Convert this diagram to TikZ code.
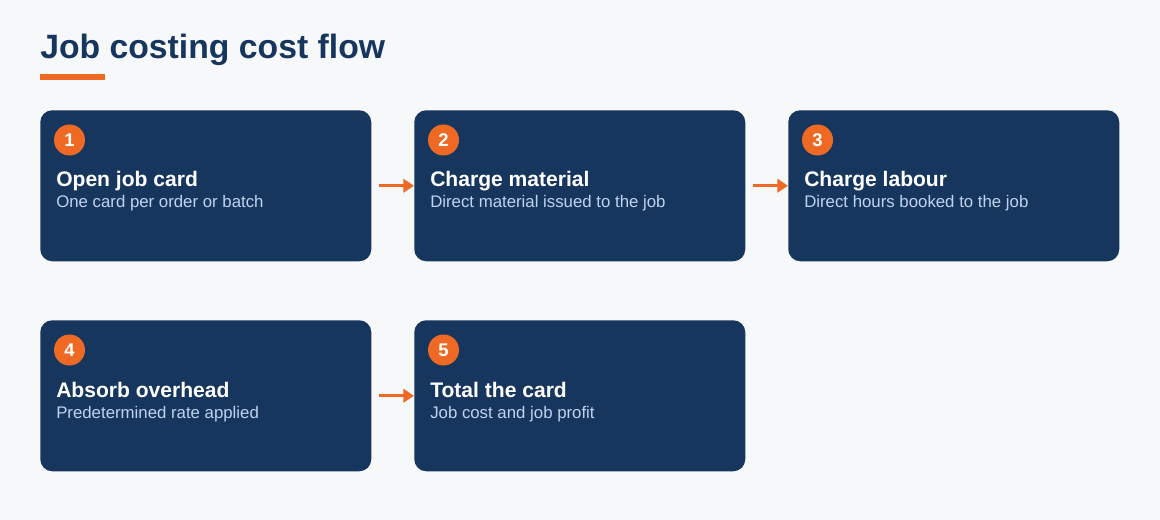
\documentclass[tikz,border=0pt]{standalone}
\usepackage{fontspec}
\setmainfont{Liberation Sans}
\usetikzlibrary{calc,arrows.meta}
\definecolor{bgc}{HTML}{F6F8FA}
\definecolor{navy}{HTML}{17365E}
\definecolor{accent}{HTML}{EE6A24}
\definecolor{subc}{HTML}{BFD3EE}
\begin{document}
\begin{tikzpicture}[x=0.75pt,y=-0.75pt,
  card/.style={draw=none,fill=navy,rounded corners=9pt,minimum width=248.25pt,minimum height=113.25pt,inner sep=0pt,anchor=north west},
  badge/.style={circle,fill=accent,minimum size=23.25pt,inner sep=0pt,text=white,font=\bfseries\fontsize{13.8}{15}\selectfont},
  cardtitle/.style={anchor=base west,inner sep=0pt,text=white,font=\bfseries\fontsize{15.8}{18}\selectfont},
  cardsub/.style={anchor=base west,inner sep=0pt,text=subc,font=\fontsize{12.6}{15}\selectfont},
  flow/.style={draw=accent,line width=2.3pt,-{Triangle[length=8pt,width=10pt]},shorten <=5.25pt}
]
\fill[bgc] (0,0) rectangle (1160,520);
\useasboundingbox (0,0) rectangle (1160,520);
\node[anchor=base west,inner sep=0pt,text=navy,font=\bfseries\fontsize{25.3}{30}\selectfont] (title) at (40,58.5) {Job costing cost flow};
\fill[accent] (40,74) rectangle (105,80);
\node[card] (b1) at (40,110) {};
\node[card] (b2) at (414,110) {};
\node[card] (b3) at (788,110) {};
\node[card] (b4) at (40,320) {};
\node[card] (b5) at (414,320) {};
\foreach \b/\n/\t/\s in {b1/1/Open job card/One card per order or batch,
  b2/2/Charge material/Direct material issued to the job,
  b3/3/Charge labour/Direct hours booked to the job,
  b4/4/Absorb overhead/Predetermined rate applied,
  b5/5/Total the card/Job cost and job profit}{
  \node[badge] (n\b) at ($(\b.north west)+(29.5,30)$) {\n};
  \node[cardtitle] (t\b) at ($(\b.north west)+(16,77)$) {\t};
  \node[cardsub] (s\b) at ($(\b.north west)+(16,98)$) {\s};
}
\draw[flow] (b1) -- (b2);
\draw[flow] (b2) -- (b3);
\draw[flow] (b4) -- (b5);
\end{tikzpicture}
\end{document}
